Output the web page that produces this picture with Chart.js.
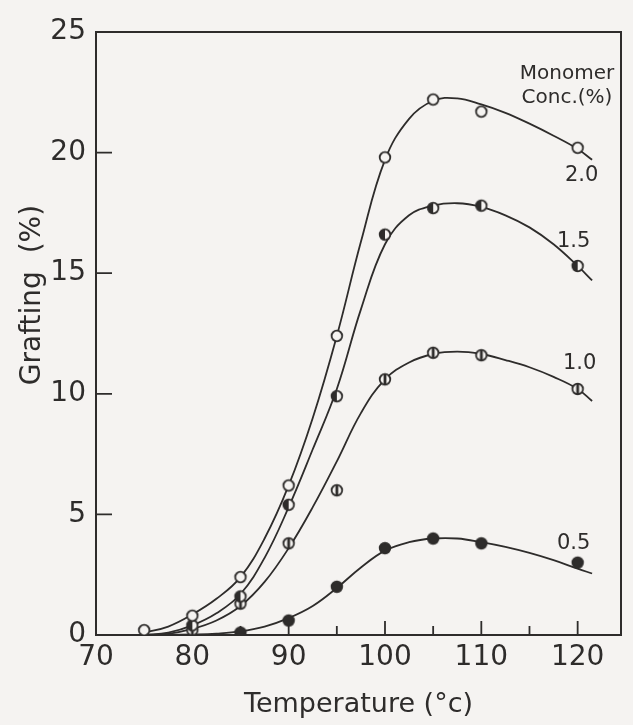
<!DOCTYPE html>
<html>
<head>
<meta charset="utf-8">
<script src="https://cdn.jsdelivr.net/npm/chart.js@4.4.0/dist/chart.umd.min.js"></script>
<style>
  html, body { margin: 0; padding: 0; background: #f5f3f1; }
  #wrap { width: 633px; height: 725px; }
</style>
</head>
<body>
<div id="wrap"><canvas id="graftChart" width="633" height="725"></canvas></div>
<script>
// measured temperatures (deg C)
const temps = [75, 80, 85, 90, 95, 100, 105, 110, 120];

// grafting (%) at each temperature, one array per monomer concentration
const conc20 = [0.2, 0.8, 2.4, 6.2, 12.4, 19.8, 22.2, 21.7, 20.2];
const conc15 = [null, 0.4, 1.6, 5.4, 9.9, 16.6, 17.7, 17.8, 15.3];
const conc10 = [null, 0.2, 1.3, 3.8, 6.0, 10.6, 11.7, 11.6, 10.2];
const conc05 = [null, null, 0.1, 0.6, 2.0, 3.6, 4.0, 3.8, 3.0];

// the hand drawn smooth curves
const curveTemps = [75, 77.5, 80, 82.5, 85, 87.5, 90, 92.5, 95, 97.5, 100, 102.5, 105, 107.5, 110, 112.5, 115, 117.5, 120, 121.5];
const curve20 = [0.1, 0.35, 0.85, 1.5, 2.4, 4.0, 6.2, 9.0, 12.4, 16.3, 19.7, 21.4, 22.15, 22.25, 22.0, 21.65, 21.2, 20.7, 20.15, 19.7];
const curve15 = [0, 0.1, 0.4, 0.9, 1.7, 3.2, 5.3, 7.7, 10.2, 13.5, 16.2, 17.4, 17.8, 17.9, 17.75, 17.4, 16.9, 16.2, 15.3, 14.7];
const curve10 = [0, 0.05, 0.25, 0.6, 1.2, 2.2, 3.6, 5.3, 7.2, 9.2, 10.6, 11.3, 11.65, 11.75, 11.65, 11.4, 11.1, 10.7, 10.2, 9.7];
const curve05 = [0, 0, 0.02, 0.06, 0.15, 0.35, 0.7, 1.2, 1.95, 2.8, 3.5, 3.85, 4.0, 4.0, 3.85, 3.65, 3.4, 3.1, 2.75, 2.55];

const seriesLabels = ["2.0", "1.5", "1.0", "0.5"];
const xTickLabels = [70, 80, 90, 100, 110, 120];
const xTickMarks = [75, 80, 85, 90, 95, 100, 105, 110, 115, 120];
const yTickLabels = [0, 5, 10, 15, 20, 25];
const yTickMarks = [5, 10, 15, 20];

const ink = "#2e2c2b";
const paper = "#f5f3f1";
const fontFamily = "'DejaVu Sans', sans-serif";

function makeMarker(kind) {
  const c = document.createElement("canvas");
  c.width = 16;
  c.height = 16;
  const g = c.getContext("2d");
  const r = 5.3;
  g.fillStyle = kind === "full" ? ink : paper;
  g.beginPath();
  g.arc(8, 8, r, 0, Math.PI * 2);
  g.fill();
  g.fillStyle = ink;
  if (kind === "left") {
    g.beginPath();
    g.arc(8, 8, r, Math.PI * 0.5, Math.PI * 1.5);
    g.fill();
  } else if (kind === "bar") {
    g.fillRect(6.6, 2.8, 2.8, 10.4);
  }
  g.strokeStyle = ink;
  g.lineWidth = 1.8;
  g.beginPath();
  g.arc(8, 8, r, 0, Math.PI * 2);
  g.stroke();
  return c;
}

function toPoints(xs, ys) {
  const out = [];
  xs.forEach((x, i) => {
    if (ys[i] !== null) out.push({ x: x, y: ys[i] });
  });
  return out;
}

function curveSet(values) {
  return {
    data: toPoints(curveTemps, values),
    showLine: true,
    borderColor: ink,
    borderWidth: 1.8,
    pointRadius: 0,
    tension: 0.4,
    order: 2,
  };
}

function markerSet(values, kind) {
  return {
    data: toPoints(temps, values),
    showLine: false,
    pointStyle: makeMarker(kind),
    pointRadius: 8,
    order: 1,
  };
}

// label placement relative to the last measured point (px)
const labelOffsets = [
  { dx: 4, dy: 28 },
  { dx: -4, dy: -24 },
  { dx: 2, dy: -25 },
  { dx: -4, dy: -19 },
];

const frameAndTicks = {
  id: "frameAndTicks",
  beforeDatasetsDraw(chart) {
    const { ctx, chartArea: a, scales } = chart;
    ctx.save();
    ctx.strokeStyle = ink;
    ctx.lineWidth = 2;
    ctx.strokeRect(a.left, a.top, a.right - a.left, a.bottom - a.top);
    ctx.lineWidth = 1.8;
    ctx.beginPath();
    xTickMarks.forEach((v) => {
      const px = scales.x.getPixelForValue(v);
      const len = v % 10 === 0 ? 14 : 9;
      ctx.moveTo(px, a.bottom);
      ctx.lineTo(px, a.bottom - len);
    });
    yTickMarks.forEach((v) => {
      const py = scales.y.getPixelForValue(v);
      ctx.moveTo(a.left, py);
      ctx.lineTo(a.left + 16, py);
    });
    ctx.stroke();
    ctx.restore();
  },
  afterDraw(chart) {
    const { ctx, scales } = chart;
    ctx.save();
    ctx.fillStyle = ink;
    ctx.textAlign = "center";
    ctx.textBaseline = "middle";

    // y axis title
    ctx.font = "28px " + fontFamily;
    ctx.save();
    ctx.translate(33, 295);
    ctx.rotate(-Math.PI / 2);
    ctx.fillText("Grafting  (%)", 0, 0);
    ctx.restore();

    ctx.font = "20px " + fontFamily;
    ctx.fillText("Monomer", 567, 74);
    ctx.fillText("Conc.(%)", 567, 98);

    const lasts = [conc20, conc15, conc10, conc05].map((s) => s[s.length - 1]);
    ctx.font = "21px " + fontFamily;
    seriesLabels.forEach((txt, i) => {
      const px = scales.x.getPixelForValue(temps[temps.length - 1]) + labelOffsets[i].dx;
      const py = scales.y.getPixelForValue(lasts[i]) + labelOffsets[i].dy;
      ctx.fillText(txt, px, py);
    });
    ctx.restore();
  },
};

const paperBg = {
  id: "paperBg",
  beforeDraw(chart) {
    const ctx = chart.ctx;
    ctx.save();
    ctx.fillStyle = paper;
    ctx.fillRect(0, 0, chart.width, chart.height);
    ctx.restore();
  },
};

new Chart(document.getElementById("graftChart"), {
  type: "scatter",
  data: {
    datasets: [
      curveSet(curve20),
      curveSet(curve15),
      curveSet(curve10),
      curveSet(curve05),
      markerSet(conc20, "open"),
      markerSet(conc15, "left"),
      markerSet(conc10, "bar"),
      markerSet(conc05, "full"),
    ],
  },
  options: {
    responsive: false,
    animation: false,
    layout: { padding: { top: 32, right: 12, left: 0, bottom: 0 } },
    plugins: {
      legend: { display: false },
      tooltip: { enabled: false },
    },
    scales: {
      x: {
        type: "linear",
        min: 70,
        max: 124.5,
        grid: { display: false, drawTicks: false },
        border: { display: false },
        afterBuildTicks: (scale) => {
          scale.ticks = xTickLabels.map((v) => ({ value: v }));
        },
        afterFit: (scale) => {
          scale.height = 90;
        },
        ticks: {
          color: ink,
          padding: 6,
          maxRotation: 0,
          font: { family: fontFamily, size: 28 },
        },
        title: {
          display: true,
          text: "Temperature (°c)",
          color: ink,
          padding: { top: 0, bottom: 4 },
          font: { family: fontFamily, size: 27 },
        },
      },
      y: {
        type: "linear",
        min: 0,
        max: 25,
        grid: { display: false, drawTicks: false },
        border: { display: false },
        afterBuildTicks: (scale) => {
          scale.ticks = yTickLabels.map((v) => ({ value: v }));
        },
        afterFit: (scale) => {
          scale.width = 96;
        },
        ticks: {
          color: ink,
          padding: 10,
          font: { family: fontFamily, size: 28 },
        },
      },
    },
  },
  plugins: [paperBg, frameAndTicks],
});
</script>
</body>
</html>
